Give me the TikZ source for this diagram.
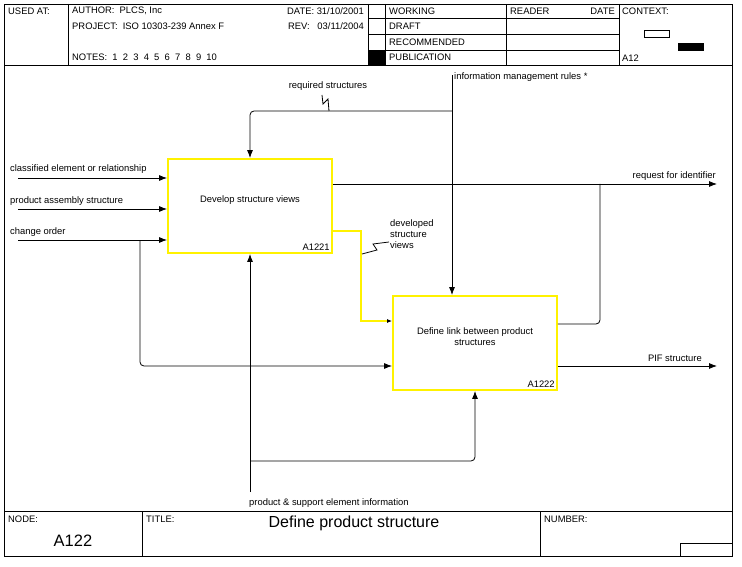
\documentclass[tikz,border=0pt]{standalone}
\usepackage{fontspec}
\setmainfont{Liberation Sans}
\usetikzlibrary{arrows.meta}
\begin{document}
\begin{tikzpicture}[
			x=1pt, y=-1pt,
			every node/.style={font=\fontsize{9.4}{10.8}\selectfont, inner sep=0pt},
			frame/.style={draw, line width=0.8pt},
			actbox/.style={draw=yellow, line width=1.8pt, minimum width=164pt, minimum height=94pt, align=center, text depth=13pt},
			boxnum/.style={anchor=south east, inner sep=3pt},
			wire/.style={draw, line width=0.8pt, rounded corners=4pt},
			arr/.style={wire, -{Latex[length=8pt,width=6pt]}},
			feed/.style={draw=yellow, line width=2pt, -{Latex[length=5pt,width=4pt,color=black]}},
			txt/.style={anchor=west},
			rtxt/.style={anchor=east}
		]
		\useasboundingbox (0,0) rectangle (742,567);
		\draw[frame] (4,4) rectangle (732,556);
		\draw[frame] (4,65) -- (732,65);
		\draw[frame] (4,511) -- (732,511);
		\foreach \x in {68,368,385,506,619}
			\draw[frame] (\x,4) -- (\x,65);
		\foreach \y in {18,34,50}
			\draw[frame] (368,\y) -- (619,\y);
		\fill (368,50) rectangle (385,65);
		\draw[frame] (644,30) rectangle (669,37);
		\fill (678,43) rectangle (704,51);
		\draw[frame] (142,511) -- (142,556);
		\draw[frame] (540,511) -- (540,556);
		\draw[frame] (680,556) |- (732,543);

		\node[txt] (usedat) at (8,11) {USED AT:};
		\node[txt] (author) at (72,11) {AUTHOR:\ \ PLCS, Inc};
		\node[txt] (project) at (72,26) {PROJECT:\ \ ISO 10303-239 Annex F};
		\node[txt] (notes) at (72,57) {NOTES:\ \ 1\ \ 2\ \ 3\ \ 4\ \ 5\ \ 6\ \ 7\ \ 8\ \ 9\ \ 10};
		\node[rtxt] (date) at (364,11) {DATE: 31/10/2001};
		\node[rtxt] (rev) at (364,26) {REV:\ \ \ 03/11/2004};
		\node[txt] (working) at (389,11) {WORKING};
		\node[txt] (draft) at (389,26) {DRAFT};
		\node[txt] (recom) at (389,42) {RECOMMENDED};
		\node[txt] (publ) at (389,57) {PUBLICATION};
		\node[txt] (reader) at (510,11) {READER};
		\node[rtxt] (rdate) at (615,11) {DATE};
		\node[txt] (context) at (622,11) {CONTEXT:};
		\node[txt] (ctxnode) at (622,58) {A12};
		\node[txt] (nodelbl) at (8,519) {NODE:};
		\node (nodeno) at (73,541) {\fontsize{16.5}{18}\selectfont A122};
		\node[txt] (titlelbl) at (146,519) {TITLE:};
		\node (title) at (354,523) {\fontsize{16}{18}\selectfont Define product structure};
		\node[txt] (numlbl) at (544,519) {NUMBER:};

		\node[actbox] (dev) at (250,206) {Develop structure views};
		\node[boxnum] (devnum) at (dev.south east) {A1221};
		\node[actbox] (link) at (475,343) {Define link between product\\structures};
		\node[boxnum] (linknum) at (link.south east) {A1222};

		\coordinate (in1) at (18,178);
		\coordinate (in2) at (18,209);
		\coordinate (in3) at (18,240);
		\coordinate (ctl) at (452,75);
		\coordinate (mech) at (250,492);
		\coordinate (out1) at (717,184);
		\coordinate (out2) at (717,366);

		\draw[arr] (in1) -- (in1 -| dev.west);
		\draw[arr] (in2) -- (in2 -| dev.west);
		\draw[arr] (in3) -- (in3 -| dev.west);
		\draw[arr] (140,240) |- (out2 -| link.west);
		\draw[arr] (ctl) -- (ctl |- link.north);
		\draw[arr] (ctl |- 0,111) -| (dev.north);
		\draw[arr] (mech) -- (dev.south);
		\draw[arr] (mech |- 0,461) -| (link.south);
		\draw[arr] (dev.east |- out1) -- (out1);
		\draw[wire] ([yshift=19pt]link.east) -| (600,184);
		\draw[arr] (link.east |- out2) -- (out2);
		\draw[feed] ([yshift=-25pt]dev.east) -| (361,321) -- ([yshift=22pt]link.west);

		\node[txt] (in1lbl) at (10,169) {classified element or relationship};
		\node[txt] (in2lbl) at (10,201) {product assembly structure};
		\node[txt] (in3lbl) at (10,232) {change order};
		\node[txt] (ctllbl) at (454,77) {information management rules *};
		\node (req) at (328,86) {required structures};
		\draw[line width=0.8pt] (322,95) -- (323,104) -- (328,99) -- (329,111);
		\node[txt, align=left] (dsv) at (390,234) {developed\\structure\\views};
		\draw[line width=0.8pt] (389,242) -- (373,244) -- (377,250) -- (362,254);
		\node[rtxt] (out1lbl) at (716,176) {request for identifier};
		\node[rtxt] (out2lbl) at (702,358) {PIF structure};
		\node[txt] (mechlbl) at (249,503) {product \& support element information};
	\end{tikzpicture}
\end{document}
